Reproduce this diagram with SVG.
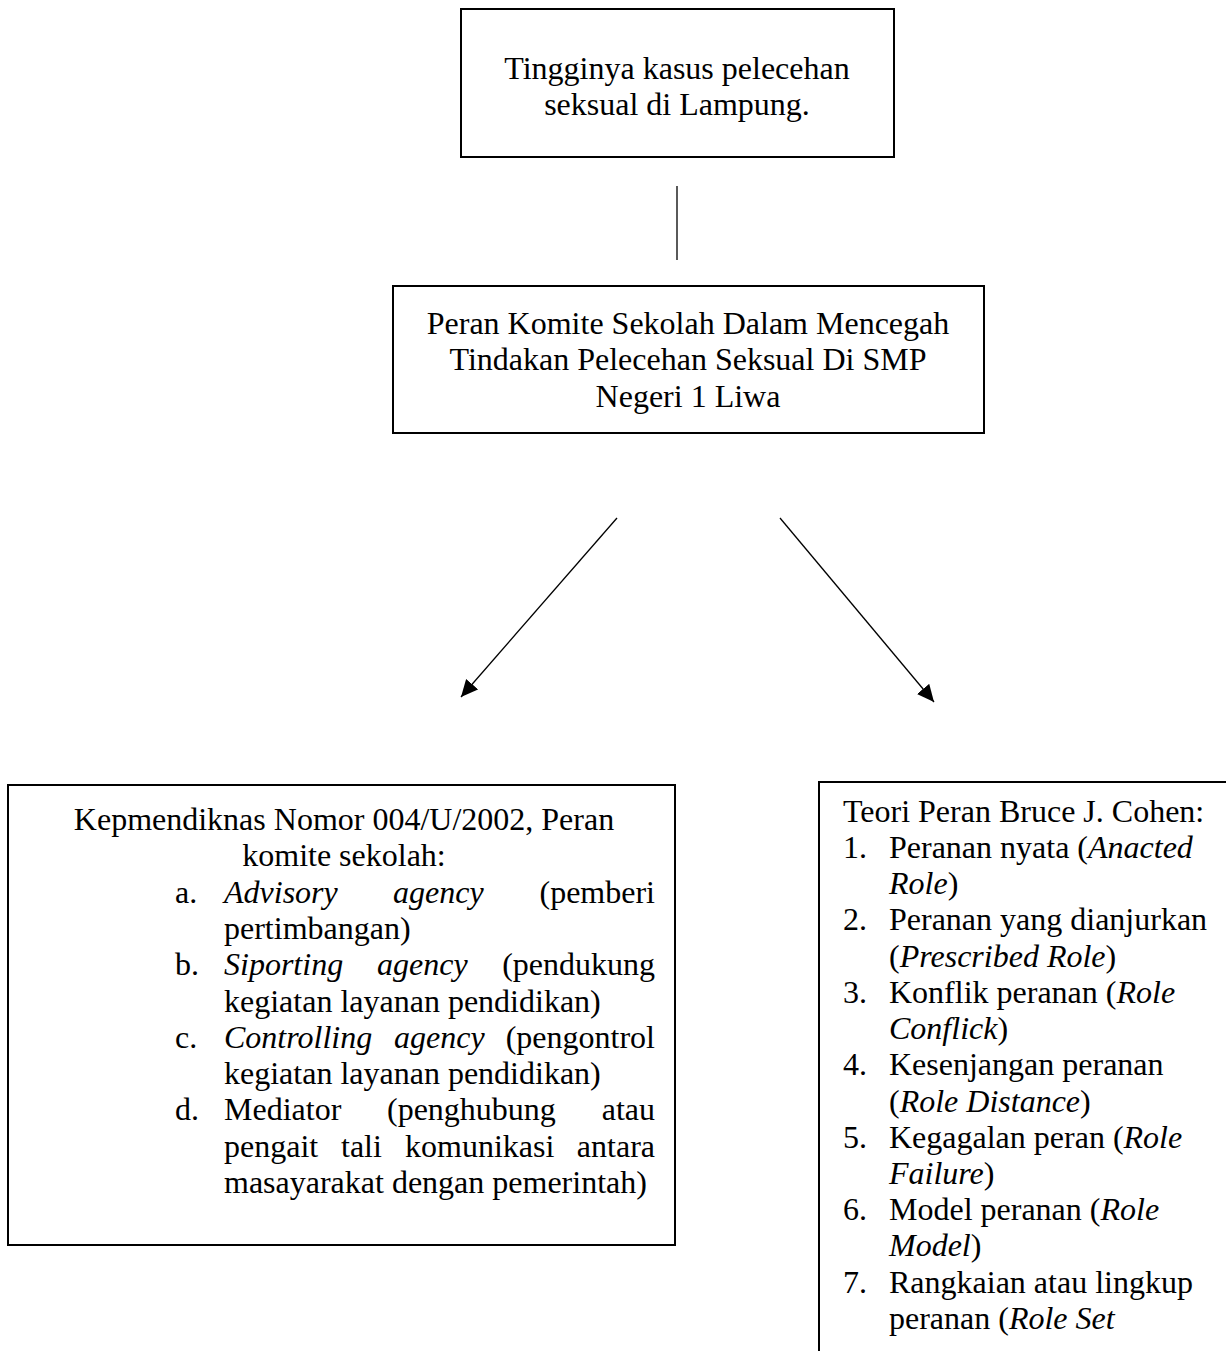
<svg xmlns="http://www.w3.org/2000/svg" width="1226" height="1351" viewBox="0 0 1226 1351">
<style>
.box{fill:#fff;stroke:#000;stroke-width:2}
.t{font-family:"Liberation Serif","Times New Roman",serif;font-size:32px;fill:#000}
.c{text-anchor:middle}
.e{text-anchor:end}
.i{font-style:italic}
.conn{stroke:#000;stroke-width:1.3;fill:none}
</style>
<defs>
<marker id="ah" markerUnits="userSpaceOnUse" markerWidth="18" markerHeight="17" refX="17" refY="8" orient="auto">
<path d="M0,0 L17,8 L0,16 z" fill="#000"/>
</marker>
</defs>
<rect width="1226" height="1351" fill="#fff"/>

<g id="connectors">
<line class="conn" x1="677" y1="186" x2="677" y2="260"/>
<line class="conn" x1="617" y1="518" x2="461" y2="697" marker-end="url(#ah)"/>
<line class="conn" x1="780" y1="518" x2="934" y2="702" marker-end="url(#ah)"/>
</g>

<g id="node-top">
<rect class="box" x="461" y="9" width="433" height="148"/>
<text class="t c" x="677" y="79">Tingginya kasus pelecehan</text>
<text class="t c" x="677" y="115">seksual di Lampung.</text>
</g>

<g id="node-middle">
<rect class="box" x="393" y="286" width="591" height="147"/>
<text class="t c" x="688" y="334">Peran Komite Sekolah Dalam Mencegah</text>
<text class="t c" x="688" y="370">Tindakan Pelecehan Seksual Di SMP</text>
<text class="t c" x="688" y="407">Negeri 1 Liwa</text>
</g>

<g id="node-left">
<rect class="box" x="8" y="785" width="667" height="460"/>
<text class="t c" x="344" y="830">Kepmendiknas Nomor 004/U/2002, Peran</text>
<text class="t c" x="344" y="866">komite sekolah:</text>
<text class="t" x="175" y="903">a.</text>
<text class="t i" x="224" y="903">Advisory</text>
<text class="t i" x="393" y="903">agency</text>
<text class="t e" x="655" y="903">(pemberi</text>
<text class="t" x="224" y="939">pertimbangan)</text>
<text class="t" x="175" y="975">b.</text>
<text class="t i" x="224" y="975">Siporting</text>
<text class="t i" x="377" y="975">agency</text>
<text class="t e" x="655" y="975">(pendukung</text>
<text class="t" x="224" y="1012">kegiatan layanan pendidikan)</text>
<text class="t" x="175" y="1048">c.</text>
<text class="t i" x="224" y="1048">Controlling</text>
<text class="t i" x="394" y="1048">agency</text>
<text class="t e" x="655" y="1048">(pengontrol</text>
<text class="t" x="224" y="1084">kegiatan layanan pendidikan)</text>
<text class="t" x="175" y="1120">d.</text>
<text class="t" x="224" y="1120">Mediator</text>
<text class="t" x="387" y="1120">(penghubung</text>
<text class="t e" x="655" y="1120">atau</text>
<text class="t" x="224" y="1157">pengait</text>
<text class="t" x="341" y="1157">tali</text>
<text class="t" x="405" y="1157">komunikasi</text>
<text class="t e" x="655" y="1157">antara</text>
<text class="t" x="224" y="1193">masayarakat dengan pemerintah)</text>
</g>

<g id="node-right">
<rect class="box" x="819" y="782" width="500" height="700"/>
<text class="t" x="843" y="822">Teori Peran Bruce J. Cohen:</text>
<text class="t" x="843" y="858">1.</text>
<text class="t" x="889" y="858">Peranan nyata (<tspan class="i">Anacted</tspan></text>
<text class="t" x="889" y="894"><tspan class="i">Role</tspan>)</text>
<text class="t" x="843" y="930">2.</text>
<text class="t" x="889" y="930">Peranan yang dianjurkan</text>
<text class="t" x="889" y="967">(<tspan class="i">Prescribed Role</tspan>)</text>
<text class="t" x="843" y="1003">3.</text>
<text class="t" x="889" y="1003">Konflik peranan (<tspan class="i">Role</tspan></text>
<text class="t" x="889" y="1039"><tspan class="i">Conflick</tspan>)</text>
<text class="t" x="843" y="1075">4.</text>
<text class="t" x="889" y="1075">Kesenjangan peranan</text>
<text class="t" x="889" y="1112">(<tspan class="i">Role Distance</tspan>)</text>
<text class="t" x="843" y="1148">5.</text>
<text class="t" x="889" y="1148">Kegagalan peran (<tspan class="i">Role</tspan></text>
<text class="t" x="889" y="1184"><tspan class="i">Failure</tspan>)</text>
<text class="t" x="843" y="1220">6.</text>
<text class="t" x="889" y="1220">Model peranan (<tspan class="i">Role</tspan></text>
<text class="t" x="889" y="1256"><tspan class="i">Model</tspan>)</text>
<text class="t" x="843" y="1293">7.</text>
<text class="t" x="889" y="1293">Rangkaian atau lingkup</text>
<text class="t" x="889" y="1329">peranan (<tspan class="i">Role Set</tspan></text>
</g>
</svg>
